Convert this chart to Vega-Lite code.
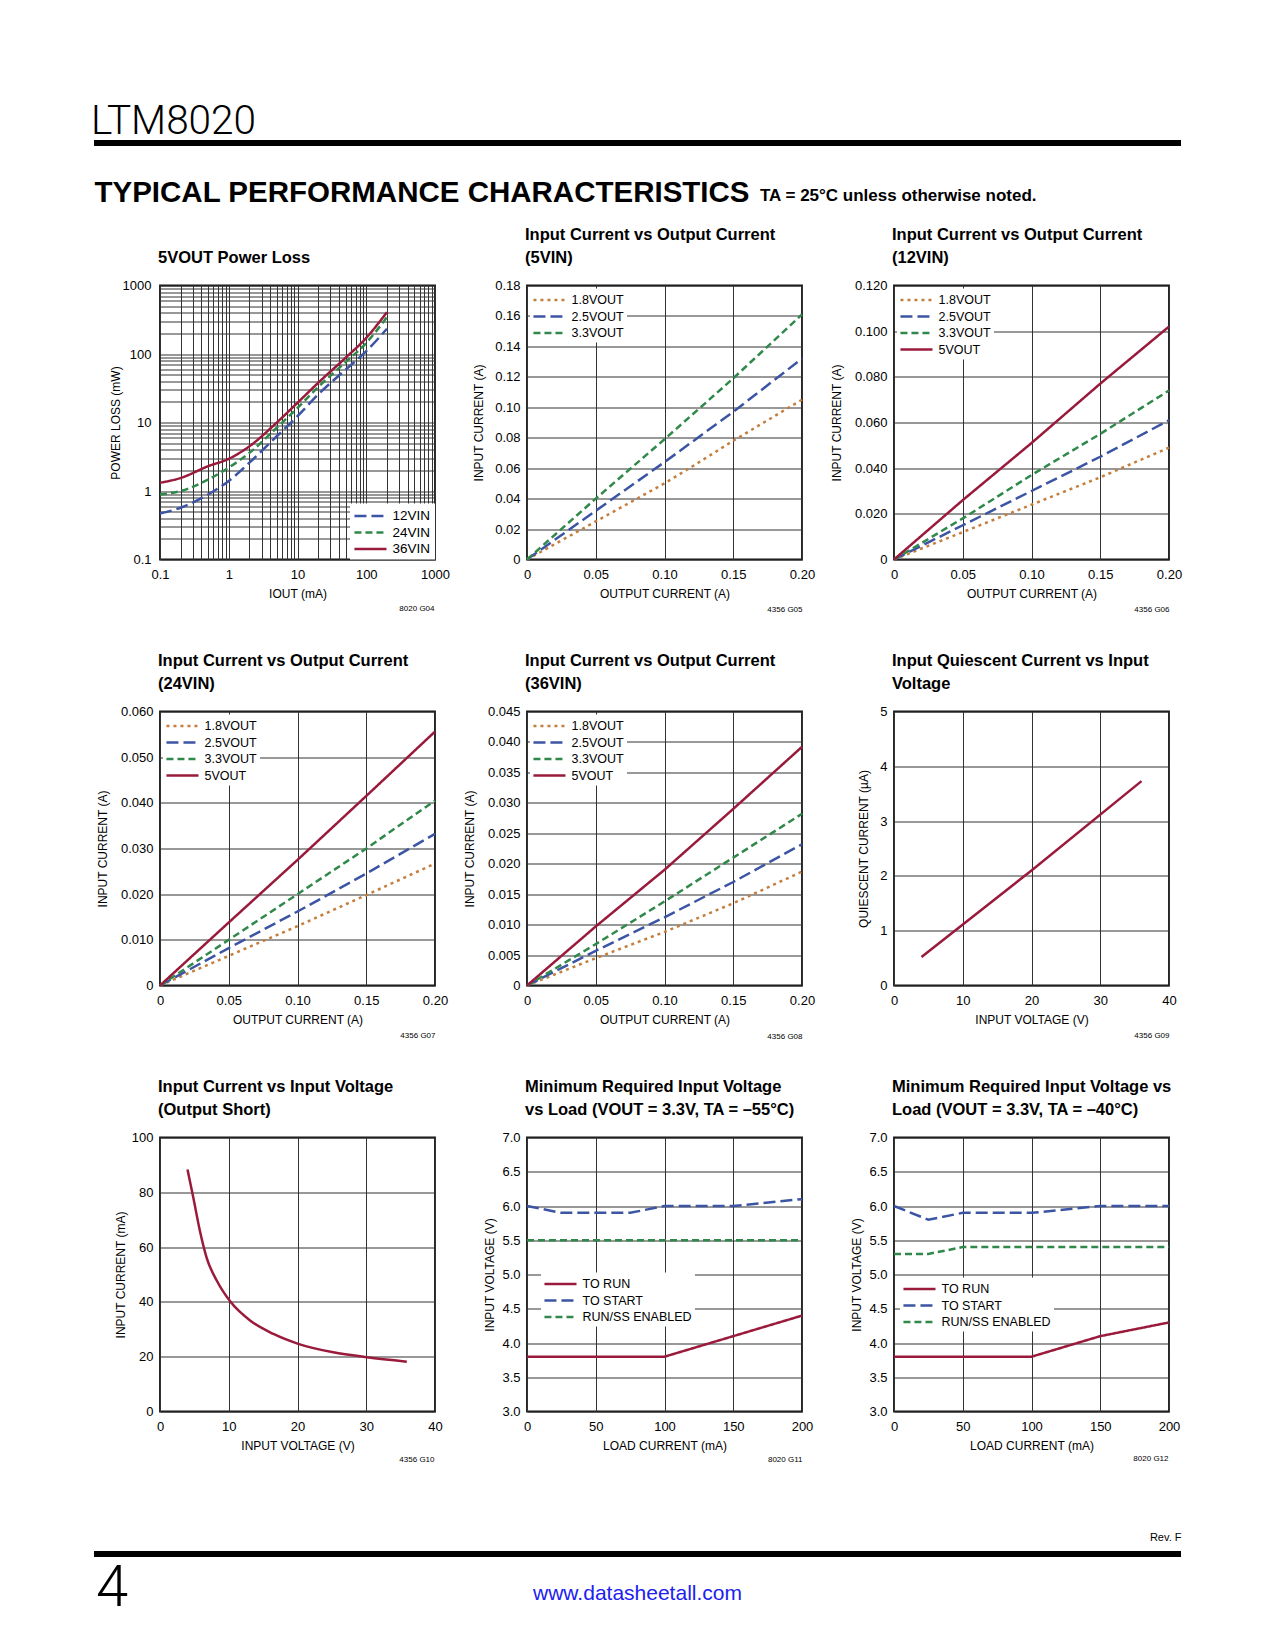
{
"$schema": "https://vega.github.io/schema/vega-lite/v6.json",
"background": "#ffffff",
"padding": {"left": 91, "top": 101, "right": 0, "bottom": 20},
"spacing": 18.5,
"datasets": {
"pl": [
{"s":"12VIN","i":0.1,"p":0.47},{"s":"12VIN","i":0.2,"p":0.57},{"s":"12VIN","i":0.5,"p":0.89},{"s":"12VIN","i":1,"p":1.4},{"s":"12VIN","i":2,"p":2.6},{"s":"12VIN","i":5,"p":6.3},{"s":"12VIN","i":10,"p":12.4},{"s":"12VIN","i":20,"p":25.7},{"s":"12VIN","i":50,"p":59},{"s":"12VIN","i":100,"p":110},{"s":"12VIN","i":200,"p":234},
{"s":"24VIN","i":0.1,"p":0.89},{"s":"24VIN","i":0.2,"p":1.0},{"s":"24VIN","i":0.5,"p":1.47},{"s":"24VIN","i":1,"p":2.2},{"s":"24VIN","i":2,"p":3.6},{"s":"24VIN","i":5,"p":8.4},{"s":"24VIN","i":10,"p":16.3},{"s":"24VIN","i":20,"p":33},{"s":"24VIN","i":50,"p":76},{"s":"24VIN","i":100,"p":145},{"s":"24VIN","i":200,"p":345},
{"s":"36VIN","i":0.1,"p":1.32},{"s":"36VIN","i":0.2,"p":1.55},{"s":"36VIN","i":0.5,"p":2.3},{"s":"36VIN","i":1,"p":2.95},{"s":"36VIN","i":2,"p":4.5},{"s":"36VIN","i":5,"p":10},{"s":"36VIN","i":10,"p":19.4},{"s":"36VIN","i":20,"p":38},{"s":"36VIN","i":50,"p":88},{"s":"36VIN","i":100,"p":172},{"s":"36VIN","i":200,"p":408}
],
"c5v": [
{"s":"1.8VOUT","x":0,"y":0},{"s":"1.8VOUT","x":0.05,"y":0.025},{"s":"1.8VOUT","x":0.1,"y":0.05},{"s":"1.8VOUT","x":0.12,"y":0.061},{"s":"1.8VOUT","x":0.15,"y":0.078},{"s":"1.8VOUT","x":0.2,"y":0.105},
{"s":"2.5VOUT","x":0,"y":0},{"s":"2.5VOUT","x":0.05,"y":0.032},{"s":"2.5VOUT","x":0.1,"y":0.064},{"s":"2.5VOUT","x":0.15,"y":0.097},{"s":"2.5VOUT","x":0.2,"y":0.132},
{"s":"3.3VOUT","x":0,"y":0},{"s":"3.3VOUT","x":0.05,"y":0.04},{"s":"3.3VOUT","x":0.1,"y":0.079},{"s":"3.3VOUT","x":0.15,"y":0.119},{"s":"3.3VOUT","x":0.2,"y":0.161}
],
"c12v": [
{"s":"1.8VOUT","x":0,"y":0},{"s":"1.8VOUT","x":0.05,"y":0.012},{"s":"1.8VOUT","x":0.1,"y":0.024},{"s":"1.8VOUT","x":0.15,"y":0.036},{"s":"1.8VOUT","x":0.2,"y":0.049},
{"s":"2.5VOUT","x":0,"y":0},{"s":"2.5VOUT","x":0.05,"y":0.015},{"s":"2.5VOUT","x":0.1,"y":0.03},{"s":"2.5VOUT","x":0.15,"y":0.045},{"s":"2.5VOUT","x":0.2,"y":0.061},
{"s":"3.3VOUT","x":0,"y":0},{"s":"3.3VOUT","x":0.05,"y":0.018},{"s":"3.3VOUT","x":0.1,"y":0.037},{"s":"3.3VOUT","x":0.15,"y":0.055},{"s":"3.3VOUT","x":0.2,"y":0.074},
{"s":"5VOUT","x":0,"y":0},{"s":"5VOUT","x":0.05,"y":0.026},{"s":"5VOUT","x":0.1,"y":0.051},{"s":"5VOUT","x":0.15,"y":0.077},{"s":"5VOUT","x":0.2,"y":0.102}
],
"c24v": [
{"s":"1.8VOUT","x":0,"y":0},{"s":"1.8VOUT","x":0.05,"y":0.0065},{"s":"1.8VOUT","x":0.1,"y":0.013},{"s":"1.8VOUT","x":0.15,"y":0.0198},{"s":"1.8VOUT","x":0.2,"y":0.0267},
{"s":"2.5VOUT","x":0,"y":0},{"s":"2.5VOUT","x":0.05,"y":0.0082},{"s":"2.5VOUT","x":0.1,"y":0.0162},{"s":"2.5VOUT","x":0.15,"y":0.0245},{"s":"2.5VOUT","x":0.2,"y":0.0332},
{"s":"3.3VOUT","x":0,"y":0},{"s":"3.3VOUT","x":0.05,"y":0.01},{"s":"3.3VOUT","x":0.1,"y":0.02},{"s":"3.3VOUT","x":0.15,"y":0.03},{"s":"3.3VOUT","x":0.2,"y":0.0405},
{"s":"5VOUT","x":0,"y":0},{"s":"5VOUT","x":0.05,"y":0.0138},{"s":"5VOUT","x":0.1,"y":0.0275},{"s":"5VOUT","x":0.15,"y":0.0415},{"s":"5VOUT","x":0.2,"y":0.0556}
],
"c36v": [
{"s":"1.8VOUT","x":0,"y":0},{"s":"1.8VOUT","x":0.05,"y":0.0045},{"s":"1.8VOUT","x":0.1,"y":0.0088},{"s":"1.8VOUT","x":0.15,"y":0.0135},{"s":"1.8VOUT","x":0.2,"y":0.0187},
{"s":"2.5VOUT","x":0,"y":0},{"s":"2.5VOUT","x":0.05,"y":0.0057},{"s":"2.5VOUT","x":0.1,"y":0.0112},{"s":"2.5VOUT","x":0.15,"y":0.017},{"s":"2.5VOUT","x":0.2,"y":0.0232},
{"s":"3.3VOUT","x":0,"y":0},{"s":"3.3VOUT","x":0.05,"y":0.0068},{"s":"3.3VOUT","x":0.1,"y":0.0138},{"s":"3.3VOUT","x":0.15,"y":0.021},{"s":"3.3VOUT","x":0.2,"y":0.0282},
{"s":"5VOUT","x":0,"y":0},{"s":"5VOUT","x":0.05,"y":0.0097},{"s":"5VOUT","x":0.1,"y":0.019},{"s":"5VOUT","x":0.15,"y":0.029},{"s":"5VOUT","x":0.2,"y":0.0392}
],
"iq": [{"v":4,"q":0.52},{"v":20,"q":2.1},{"v":36,"q":3.73}],
"sc": [{"v":4,"c":88.3},{"v":4.85,"c":78},{"v":5.8,"c":66},{"v":6.8,"c":56},{"v":8.25,"c":47.8},{"v":10.2,"c":40.2},{"v":13.1,"c":33.2},{"v":16.5,"c":28.3},{"v":20.1,"c":24.7},{"v":25.2,"c":21.6},{"v":30.1,"c":19.8},{"v":35.9,"c":18.2}],
"m55": [
{"s":"TO RUN","l":0,"v":3.8},{"s":"TO RUN","l":100,"v":3.8},{"s":"TO RUN","l":200,"v":4.4},
{"s":"TO START","l":0,"v":6.0},{"s":"TO START","l":25,"v":5.9},{"s":"TO START","l":75,"v":5.9},{"s":"TO START","l":100,"v":6.0},{"s":"TO START","l":150,"v":6.0},{"s":"TO START","l":200,"v":6.1},
{"s":"RUN/SS ENABLED","l":0,"v":5.5},{"s":"RUN/SS ENABLED","l":200,"v":5.5}
],
"m40": [
{"s":"TO RUN","l":0,"v":3.8},{"s":"TO RUN","l":100,"v":3.8},{"s":"TO RUN","l":150,"v":4.1},{"s":"TO RUN","l":200,"v":4.3},
{"s":"TO START","l":0,"v":6.0},{"s":"TO START","l":25,"v":5.8},{"s":"TO START","l":50,"v":5.9},{"s":"TO START","l":100,"v":5.9},{"s":"TO START","l":150,"v":6.0},{"s":"TO START","l":200,"v":6.0},
{"s":"RUN/SS ENABLED","l":0,"v":5.3},{"s":"RUN/SS ENABLED","l":25,"v":5.3},{"s":"RUN/SS ENABLED","l":50,"v":5.4},{"s":"RUN/SS ENABLED","l":200,"v":5.4}
]
},
"vconcat": [
{
"width": 1021, "height": 6,
"view": {"fill": "#000000", "stroke": null},
"title": {"text": "LTM8020", "font": "Roboto, Liberation Sans, sans-serif", "fontSize": 40.5, "fontWeight": 300, "baseline": "alphabetic", "offset": -34, "dx": 0, "frame": "bounds", "anchor": "start", "color": "#000000"},
"data": {"values": []},
"mark": "point",
"encoding": {
"x": {"field": "a", "type": "quantitative", "scale": {"domain": [0, 1]}, "axis": {"orient": "bottom", "grid": false, "labels": false, "ticks": false, "domain": false, "title": "TYPICAL PERFORMANCE CHARACTERISTICS", "titleFont": "Liberation Sans, Arial, sans-serif", "titleFontSize": 29.5, "titleFontWeight": "bold", "titleAlign": "left", "titleBaseline": "alphabetic", "titleX": -66, "titleY": 55}},
"y": {"field": "b", "type": "quantitative", "scale": {"domain": [0, 1]}, "axis": {"grid": false, "labels": false, "ticks": true, "values": [0.5], "tickSize": 66, "tickWidth": 6, "tickColor": "#000000", "tickCap": "butt", "translate": 0, "domain": false, "title": "TA = 25°C unless otherwise noted.", "titleFont": "Liberation Sans, Arial, sans-serif", "titleFontSize": 17, "titleFontWeight": "bold", "titleAngle": 0, "titleAlign": "left", "titleBaseline": "alphabetic", "titleX": 600, "titleY": 61}}
}
},
{
"concat": [
{
"width": 275, "height": 274,
"title": {"text": "5VOUT Power Loss"},
"layer": [
{
"data": {"name": "pl"},
"mark": {"type": "line", "strokeWidth": 2.5, "interpolate": "monotone"},
"encoding": {
"x": {"field": "i", "type": "quantitative", "scale": {"type": "log", "domain": [0.1, 1000], "nice": false}, "axis": {"title": "IOUT (mA)", "values": [0.1,0.2,0.3,0.4,0.5,0.6,0.7,0.8,0.9,1,2,3,4,5,6,7,8,9,10,20,30,40,50,60,70,80,90,100,200,300,400,500,600,700,800,900,1000], "labelExpr": "abs(log(datum.value)/LN10 - round(log(datum.value)/LN10)) < 0.01 ? format(datum.value, '~g') : ''"}},
"y": {"field": "p", "type": "quantitative", "scale": {"type": "log", "domain": [0.1, 1000], "nice": false}, "axis": {"title": "POWER LOSS (mW)", "labelPadding": 9, "titlePadding": 0, "values": [0.1,0.2,0.3,0.4,0.5,0.6,0.7,0.8,0.9,1,2,3,4,5,6,7,8,9,10,20,30,40,50,60,70,80,90,100,200,300,400,500,600,700,800,900,1000], "labelExpr": "abs(log(datum.value)/LN10 - round(log(datum.value)/LN10)) < 0.01 ? format(datum.value, '~g') : ''"}},
"color": {"field": "s", "type": "nominal", "scale": {"domain": ["12VIN","24VIN","36VIN"], "range": ["#3c54a4","#30894a","#9a1a3c"]}, "legend": {"title": null, "orient": "bottom-right", "offset": 0, "padding": 4, "labelFontSize": 13.5}},
"strokeDash": {"field": "s", "type": "nominal", "scale": {"domain": ["12VIN","24VIN","36VIN"], "range": [[12,5],[7,4],[1,0]]}, "legend": {"title": null, "orient": "bottom-right", "offset": 0, "padding": 4, "labelFontSize": 13.5}}
}
},
{"data": {"values": []}, "mark": "point", "encoding": {"y": {"field": "z", "type": "quantitative", "scale": {"domain": [0, 1]}, "axis": {"orient": "right", "grid": false, "labels": false, "ticks": false, "domain": false, "title": "8020 G04", "titleFontSize": 8, "titleAngle": 0, "titleAlign": "right", "titleBaseline": "alphabetic", "titleX": -1, "titleY": 325}}}}
],
"resolve": {"scale": {"y": "independent"}}
},
{
"width": 275, "height": 274,
"title": {"text": ["Input Current vs Output Current", "(5VIN)"]},
"layer": [
{
"data": {"name": "c5v"},
"mark": {"type": "line", "strokeWidth": 2.5},
"encoding": {
"x": {"field": "x", "type": "quantitative", "scale": {"domain": [0, 0.2], "nice": false}, "axis": {"title": "OUTPUT CURRENT (A)", "values": [0,0.05,0.1,0.15,0.2], "labelExpr": "datum.value == 0 ? '0' : format(datum.value, '.2f')"}},
"y": {"field": "y", "type": "quantitative", "scale": {"domain": [0, 0.18], "nice": false}, "axis": {"title": "INPUT CURRENT (A)", "titlePadding": 9, "values": [0,0.02,0.04,0.06,0.08,0.1,0.12,0.14,0.16,0.18], "labelExpr": "datum.value == 0 ? '0' : format(datum.value, '.2f')"}},
"color": {"field": "s", "type": "nominal", "scale": {"domain": ["1.8VOUT","2.5VOUT","3.3VOUT"], "range": ["#c47f3e","#3c54a4","#30894a"]}, "legend": {"title": null, "orient": "top-left"}},
"strokeDash": {"field": "s", "type": "nominal", "scale": {"domain": ["1.8VOUT","2.5VOUT","3.3VOUT"], "range": [[3,4],[12,5],[7,4]]}, "legend": {"title": null, "orient": "top-left"}}
}
},
{"data": {"values": []}, "mark": "point", "encoding": {"y": {"field": "z", "type": "quantitative", "scale": {"domain": [0, 1]}, "axis": {"orient": "right", "grid": false, "labels": false, "ticks": false, "domain": false, "title": "4356 G05", "titleFontSize": 8, "titleAngle": 0, "titleAlign": "right", "titleBaseline": "alphabetic", "titleX": 0, "titleY": 326}}}}
],
"resolve": {"scale": {"y": "independent"}}
},
{
"width": 275, "height": 274,
"title": {"text": ["Input Current vs Output Current", "(12VIN)"]},
"layer": [
{
"data": {"name": "c12v"},
"mark": {"type": "line", "strokeWidth": 2.5},
"encoding": {
"x": {"field": "x", "type": "quantitative", "scale": {"domain": [0, 0.2], "nice": false}, "axis": {"title": "OUTPUT CURRENT (A)", "values": [0,0.05,0.1,0.15,0.2], "labelExpr": "datum.value == 0 ? '0' : format(datum.value, '.2f')"}},
"y": {"field": "y", "type": "quantitative", "scale": {"domain": [0, 0.12], "nice": false}, "axis": {"title": "INPUT CURRENT (A)", "titlePadding": 11, "values": [0,0.02,0.04,0.06,0.08,0.1,0.12], "labelExpr": "datum.value == 0 ? '0' : format(datum.value, '.3f')"}},
"color": {"field": "s", "type": "nominal", "scale": {"domain": ["1.8VOUT","2.5VOUT","3.3VOUT","5VOUT"], "range": ["#c47f3e","#3c54a4","#30894a","#9a1a3c"]}, "legend": {"title": null, "orient": "top-left"}},
"strokeDash": {"field": "s", "type": "nominal", "scale": {"domain": ["1.8VOUT","2.5VOUT","3.3VOUT","5VOUT"], "range": [[3,4],[12,5],[7,4],[1,0]]}, "legend": {"title": null, "orient": "top-left"}}
}
},
{"data": {"values": []}, "mark": "point", "encoding": {"y": {"field": "z", "type": "quantitative", "scale": {"domain": [0, 1]}, "axis": {"orient": "right", "grid": false, "labels": false, "ticks": false, "domain": false, "title": "4356 G06", "titleFontSize": 8, "titleAngle": 0, "titleAlign": "right", "titleBaseline": "alphabetic", "titleX": 0, "titleY": 326}}}}
],
"resolve": {"scale": {"y": "independent"}}
},
{
"width": 275, "height": 274,
"title": {"text": ["Input Current vs Output Current", "(24VIN)"]},
"layer": [
{
"data": {"name": "c24v"},
"mark": {"type": "line", "strokeWidth": 2.5},
"encoding": {
"x": {"field": "x", "type": "quantitative", "scale": {"domain": [0, 0.2], "nice": false}, "axis": {"title": "OUTPUT CURRENT (A)", "values": [0,0.05,0.1,0.15,0.2], "labelExpr": "datum.value == 0 ? '0' : format(datum.value, '.2f')"}},
"y": {"field": "y", "type": "quantitative", "scale": {"domain": [0, 0.06], "nice": false}, "axis": {"title": "INPUT CURRENT (A)", "titlePadding": 11, "values": [0,0.01,0.02,0.03,0.04,0.05,0.06], "labelExpr": "datum.value == 0 ? '0' : format(datum.value, '.3f')"}},
"color": {"field": "s", "type": "nominal", "scale": {"domain": ["1.8VOUT","2.5VOUT","3.3VOUT","5VOUT"], "range": ["#c47f3e","#3c54a4","#30894a","#9a1a3c"]}, "legend": {"title": null, "orient": "top-left"}},
"strokeDash": {"field": "s", "type": "nominal", "scale": {"domain": ["1.8VOUT","2.5VOUT","3.3VOUT","5VOUT"], "range": [[3,4],[12,5],[7,4],[1,0]]}, "legend": {"title": null, "orient": "top-left"}}
}
},
{"data": {"values": []}, "mark": "point", "encoding": {"y": {"field": "z", "type": "quantitative", "scale": {"domain": [0, 1]}, "axis": {"orient": "right", "grid": false, "labels": false, "ticks": false, "domain": false, "title": "4356 G07", "titleFontSize": 8, "titleAngle": 0, "titleAlign": "right", "titleBaseline": "alphabetic", "titleX": 0, "titleY": 326}}}}
],
"resolve": {"scale": {"y": "independent"}}
},
{
"width": 275, "height": 274,
"title": {"text": ["Input Current vs Output Current", "(36VIN)"]},
"layer": [
{
"data": {"name": "c36v"},
"mark": {"type": "line", "strokeWidth": 2.5},
"encoding": {
"x": {"field": "x", "type": "quantitative", "scale": {"domain": [0, 0.2], "nice": false}, "axis": {"title": "OUTPUT CURRENT (A)", "values": [0,0.05,0.1,0.15,0.2], "labelExpr": "datum.value == 0 ? '0' : format(datum.value, '.2f')"}},
"y": {"field": "y", "type": "quantitative", "scale": {"domain": [0, 0.045], "nice": false}, "axis": {"title": "INPUT CURRENT (A)", "titlePadding": 11, "values": [0,0.005,0.01,0.015,0.02,0.025,0.03,0.035,0.04,0.045], "labelExpr": "datum.value == 0 ? '0' : format(datum.value, '.3f')"}},
"color": {"field": "s", "type": "nominal", "scale": {"domain": ["1.8VOUT","2.5VOUT","3.3VOUT","5VOUT"], "range": ["#c47f3e","#3c54a4","#30894a","#9a1a3c"]}, "legend": {"title": null, "orient": "top-left"}},
"strokeDash": {"field": "s", "type": "nominal", "scale": {"domain": ["1.8VOUT","2.5VOUT","3.3VOUT","5VOUT"], "range": [[3,4],[12,5],[7,4],[1,0]]}, "legend": {"title": null, "orient": "top-left"}}
}
},
{"data": {"values": []}, "mark": "point", "encoding": {"y": {"field": "z", "type": "quantitative", "scale": {"domain": [0, 1]}, "axis": {"orient": "right", "grid": false, "labels": false, "ticks": false, "domain": false, "title": "4356 G08", "titleFontSize": 8, "titleAngle": 0, "titleAlign": "right", "titleBaseline": "alphabetic", "titleX": 0, "titleY": 327}}}}
],
"resolve": {"scale": {"y": "independent"}}
},
{
"width": 275, "height": 274,
"title": {"text": ["Input Quiescent Current vs Input", "Voltage"]},
"layer": [
{
"data": {"name": "iq"},
"mark": {"type": "line", "strokeWidth": 2.5, "color": "#9a1a3c"},
"encoding": {
"x": {"field": "v", "type": "quantitative", "scale": {"domain": [0, 40], "nice": false}, "axis": {"title": "INPUT VOLTAGE (V)", "values": [0,10,20,30,40]}},
"y": {"field": "q", "type": "quantitative", "scale": {"domain": [0, 5], "nice": false}, "axis": {"title": "QUIESCENT CURRENT (µA)", "titlePadding": 9, "values": [0,1,2,3,4,5]}}
}
},
{"data": {"values": []}, "mark": "point", "encoding": {"y": {"field": "z", "type": "quantitative", "scale": {"domain": [0, 1]}, "axis": {"orient": "right", "grid": false, "labels": false, "ticks": false, "domain": false, "title": "4356 G09", "titleFontSize": 8, "titleAngle": 0, "titleAlign": "right", "titleBaseline": "alphabetic", "titleX": 0, "titleY": 326}}}}
],
"resolve": {"scale": {"y": "independent"}}
},
{
"width": 275, "height": 274,
"title": {"text": ["Input Current vs Input Voltage", "(Output Short)"]},
"layer": [
{
"data": {"name": "sc"},
"mark": {"type": "line", "strokeWidth": 2.5, "color": "#9a1a3c", "interpolate": "monotone"},
"encoding": {
"x": {"field": "v", "type": "quantitative", "scale": {"domain": [0, 40], "nice": false}, "axis": {"title": "INPUT VOLTAGE (V)", "values": [0,10,20,30,40]}},
"y": {"field": "c", "type": "quantitative", "scale": {"domain": [0, 100], "nice": false}, "axis": {"title": "INPUT CURRENT (mA)", "titlePadding": 4, "values": [0,20,40,60,80,100]}}
}
},
{"data": {"values": []}, "mark": "point", "encoding": {"y": {"field": "z", "type": "quantitative", "scale": {"domain": [0, 1]}, "axis": {"orient": "right", "grid": false, "labels": false, "ticks": false, "domain": false, "title": "4356 G10", "titleFontSize": 8, "titleAngle": 0, "titleAlign": "right", "titleBaseline": "alphabetic", "titleX": -1, "titleY": 324}}}}
],
"resolve": {"scale": {"y": "independent"}}
},
{
"width": 275, "height": 274,
"title": {"text": ["Minimum Required Input Voltage", "vs Load (VOUT = 3.3V, TA = –55°C)"]},
"layer": [
{
"data": {"name": "m55"},
"mark": {"type": "line", "strokeWidth": 2.5},
"encoding": {
"x": {"field": "l", "type": "quantitative", "scale": {"domain": [0, 200], "nice": false}, "axis": {"title": "LOAD CURRENT (mA)", "values": [0,50,100,150,200]}},
"y": {"field": "v", "type": "quantitative", "scale": {"domain": [3, 7], "nice": false, "zero": false}, "axis": {"title": "INPUT VOLTAGE (V)", "titlePadding": 5, "values": [3,3.5,4,4.5,5,5.5,6,6.5,7], "labelExpr": "format(datum.value, '.1f')"}},
"color": {"field": "s", "type": "nominal", "scale": {"domain": ["TO RUN","TO START","RUN/SS ENABLED"], "range": ["#9a1a3c","#3c54a4","#30894a"]}, "legend": {"title": null, "orient": "none", "legendX": 14, "legendY": 135}},
"strokeDash": {"field": "s", "type": "nominal", "scale": {"domain": ["TO RUN","TO START","RUN/SS ENABLED"], "range": [[1,0],[12,5],[7,4]]}, "legend": {"title": null, "orient": "none", "legendX": 14, "legendY": 135}}
}
},
{"data": {"values": []}, "mark": "point", "encoding": {"y": {"field": "z", "type": "quantitative", "scale": {"domain": [0, 1]}, "axis": {"orient": "right", "grid": false, "labels": false, "ticks": false, "domain": false, "title": "8020 G11", "titleFontSize": 8, "titleAngle": 0, "titleAlign": "right", "titleBaseline": "alphabetic", "titleX": 0, "titleY": 324}}}}
],
"resolve": {"scale": {"y": "independent"}}
},
{
"width": 275, "height": 274,
"title": {"text": ["Minimum Required Input Voltage vs", "Load (VOUT = 3.3V, TA = –40°C)"]},
"layer": [
{
"data": {"name": "m40"},
"mark": {"type": "line", "strokeWidth": 2.5},
"encoding": {
"x": {"field": "l", "type": "quantitative", "scale": {"domain": [0, 200], "nice": false}, "axis": {"title": "LOAD CURRENT (mA)", "values": [0,50,100,150,200]}},
"y": {"field": "v", "type": "quantitative", "scale": {"domain": [3, 7], "nice": false, "zero": false}, "axis": {"title": "INPUT VOLTAGE (V)", "titlePadding": 5, "values": [3,3.5,4,4.5,5,5.5,6,6.5,7], "labelExpr": "format(datum.value, '.1f')"}},
"color": {"field": "s", "type": "nominal", "scale": {"domain": ["TO RUN","TO START","RUN/SS ENABLED"], "range": ["#9a1a3c","#3c54a4","#30894a"]}, "legend": {"title": null, "orient": "none", "legendX": 6, "legendY": 140}},
"strokeDash": {"field": "s", "type": "nominal", "scale": {"domain": ["TO RUN","TO START","RUN/SS ENABLED"], "range": [[1,0],[12,5],[7,4]]}, "legend": {"title": null, "orient": "none", "legendX": 6, "legendY": 140}}
}
},
{"data": {"values": []}, "mark": "point", "encoding": {"y": {"field": "z", "type": "quantitative", "scale": {"domain": [0, 1]}, "axis": {"orient": "right", "grid": false, "labels": false, "ticks": false, "domain": false, "title": "8020 G12", "titleFontSize": 8, "titleAngle": 0, "titleAlign": "right", "titleBaseline": "alphabetic", "titleX": -1, "titleY": 323}}}}
],
"resolve": {"scale": {"y": "independent"}}
}
],
"columns": 3,
"bounds": "flush",
"spacing": {"row": 152, "column": 92},
"resolve": {"scale": {"color": "independent", "strokeDash": "independent"}, "legend": {"color": "independent", "strokeDash": "independent"}}
},
{
"width": 1021, "height": 71,
"view": {"stroke": null},
"layer": [
{
"data": {"values": []},
"mark": "point",
"encoding": {
"y": {"field": "v", "type": "quantitative", "scale": {"domain": [0, 1]}, "axis": {"orient": "left", "grid": false, "labels": false, "ticks": true, "values": [0], "tickSize": 66, "tickWidth": 6, "tickColor": "#000000", "tickCap": "butt", "translate": 0, "domain": false, "title": "4", "titleFont": "Roboto, Liberation Sans, sans-serif", "titleFontSize": 58, "titleFontWeight": 300, "titleAngle": 0, "titleAlign": "left", "titleBaseline": "alphabetic", "titleX": -64, "titleY": 123}},
"x": {"field": "a", "type": "quantitative", "scale": {"domain": [0, 1]}, "axis": {"orient": "bottom", "grid": false, "labels": false, "ticks": false, "domain": true, "domainWidth": 6, "domainColor": "#000000", "domainCap": "butt", "translate": 0, "title": "www.datasheetall.com", "titleFontSize": 21, "titleFontWeight": "normal", "titleColor": "#2020f0", "titleAlign": "center", "titleBaseline": "alphabetic", "titleX": 477.5, "titleY": 46}}
}
},
{
"data": {"values": []},
"mark": "point",
"encoding": {
"y": {"field": "b", "type": "quantitative", "scale": {"domain": [0, 1]}, "axis": {"orient": "right", "grid": false, "labels": false, "ticks": false, "domain": false, "title": "Rev. F", "titleFontSize": 11, "titleAngle": 0, "titleAlign": "right", "titleBaseline": "alphabetic", "titleX": 0, "titleY": 57}}
}
}
],
"resolve": {"scale": {"y": "independent"}, "axis": {"y": "independent"}}
}
],
"config": {
"font": "Liberation Sans, Arial, sans-serif",
"view": {"stroke": "#111111", "strokeWidth": 1.8},
"title": {"font": "Liberation Sans, Arial, sans-serif", "fontSize": 16.5, "fontWeight": "bold", "anchor": "start", "frame": "group", "dx": -2, "color": "#000000", "offset": 13, "lineHeight": 23},
"axis": {"domain": false, "ticks": false, "grid": true, "gridColor": "#333333", "gridWidth": 1, "labelFont": "Liberation Sans, Arial, sans-serif", "labelFontSize": 13, "labelColor": "#000000", "labelFlush": false, "labelOverlap": false, "labelBound": false, "titleFont": "Liberation Sans, Arial, sans-serif", "titleFontSize": 12, "titleFontWeight": "normal", "titleColor": "#000000"},
"axisX": {"labelPadding": 9, "titlePadding": 7},
"axisY": {"labelPadding": 7},
"legend": {"labelFont": "Liberation Sans, Arial, sans-serif", "labelFontSize": 12.5, "labelColor": "#000000", "symbolType": "M-1.15,0H3.43", "symbolSize": 196, "symbolStrokeWidth": 2.5, "labelOffset": 21.5, "rowPadding": 1.5, "fillColor": "#ffffff", "padding": 3, "offset": 3}
}
}
